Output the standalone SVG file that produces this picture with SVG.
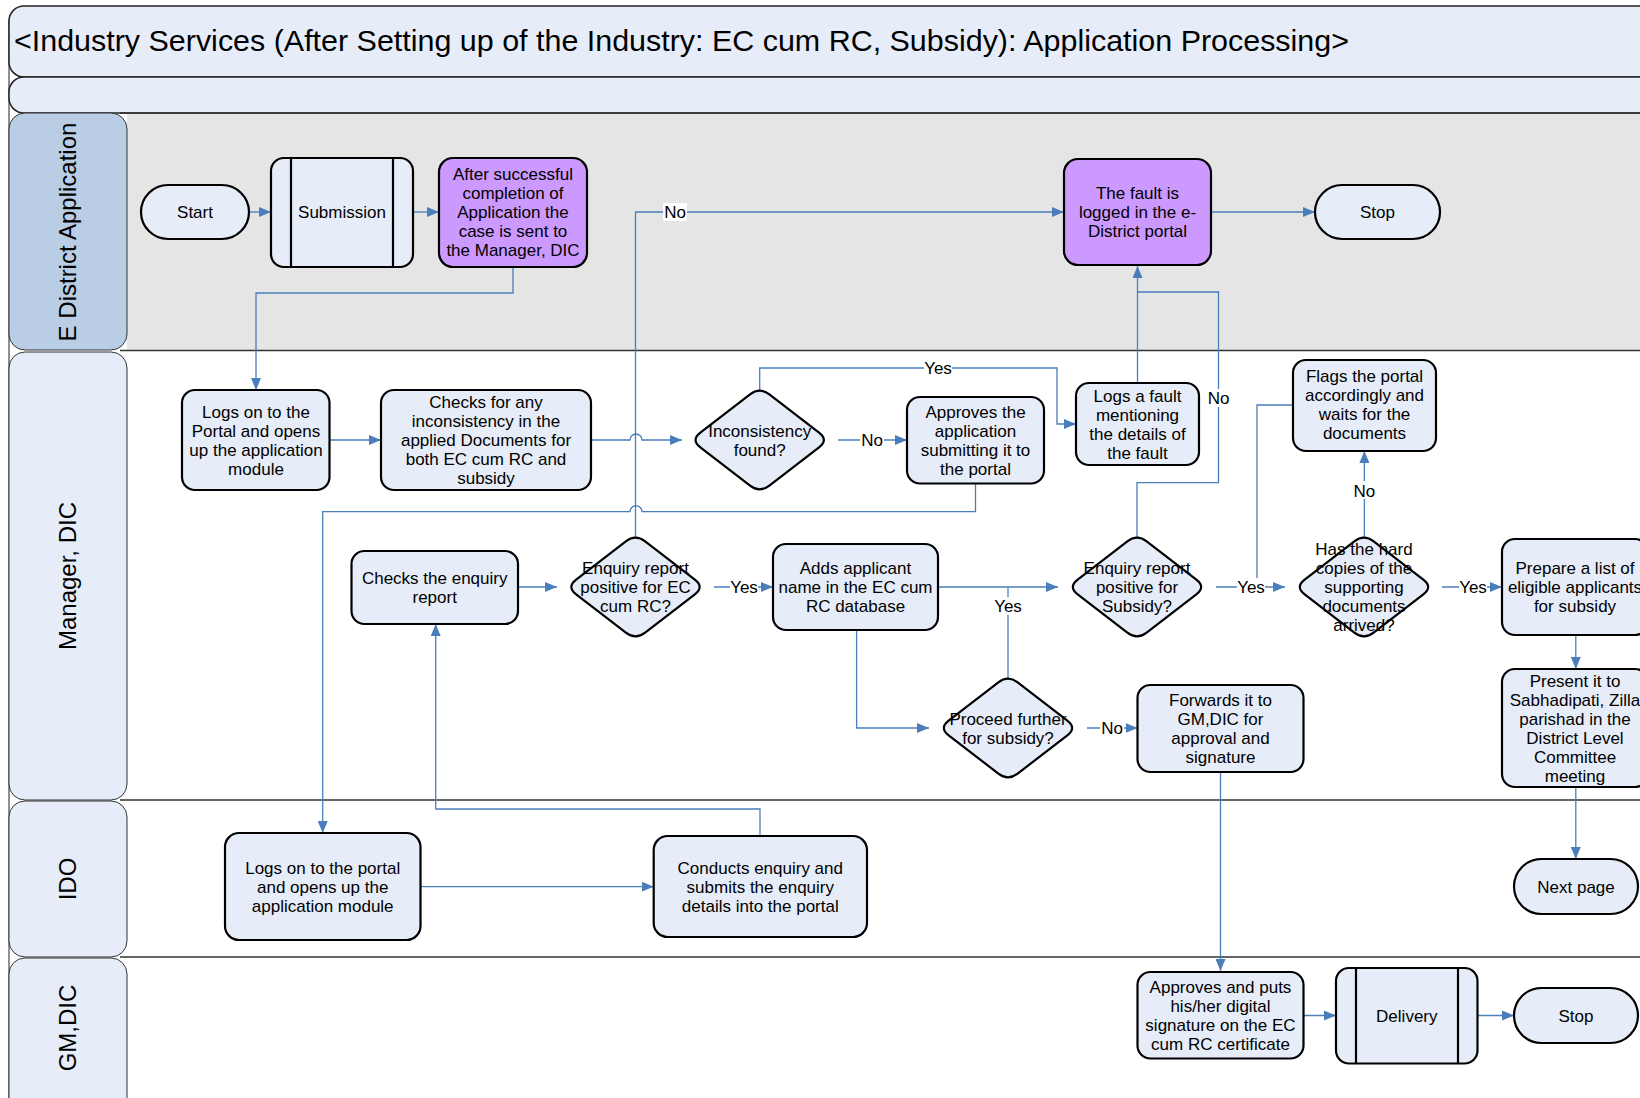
<svg xmlns="http://www.w3.org/2000/svg" xmlns:xlink="http://www.w3.org/1999/xlink" width="1640" height="1098" viewBox="0 0 1640 1098">
  <style>
    .txt { font-family: "Liberation Sans", Arial, sans-serif; font-size: 17px; fill: #000; text-anchor: middle; }
    .title { font-family: "Liberation Sans", Arial, sans-serif; font-size: 30px; fill: #000; }
    .lane { font-family: "Liberation Sans", Arial, sans-serif; font-size: 24px; fill: #000; text-anchor: middle; }
    .box { fill: #E6EDF8; stroke: #000; stroke-width: 2.2; }
    .purple { fill: #CC99FF; stroke: #000; stroke-width: 2.2; }
    .bar { fill: #E6EDF8; stroke: #222; stroke-width: 1.5; }
    .lanehead { fill: #E6EDF8; stroke: #333; stroke-width: 1; }
    .lanehead-a { fill: #B9CDE5; stroke: #333; stroke-width: 1; }
    .sep { stroke: #333; stroke-width: 1.6; fill: none; }
    .conn { fill: none; stroke: #4A7EBB; stroke-width: 1.3; }
    .arrow { marker-end: url(#arr); }
    .lblbg { fill: #fff; }
  </style>
  <defs>
    <marker id="arr" markerUnits="userSpaceOnUse" markerWidth="12" markerHeight="10" refX="12" refY="5" orient="auto">
      <path d="M0,0 L12,5 L0,10 Z" fill="#4A7EBB"/>
    </marker>
    <!-- decision shape, centred on the origin -->
    <path id="dia" class="box" d="M9.66,-45.58 L59.34,-7.42 Q69,0 59.34,7.42 L9.66,45.58 Q0,53 -9.66,45.58 L-59.34,7.42 Q-69,0 -59.34,-7.42 L-9.66,-45.58 Q0,-53 9.66,-45.58 Z"/>
  </defs>

  <!-- page background -->
  <rect x="0" y="0" width="1640" height="1098" fill="#fff"/>

  <!-- swimlane frame -->
  <g id="frame">
    <rect x="127" y="113" width="1520" height="237" fill="#E5E5E5"/>
    <line x1="9" y1="20" x2="9" y2="1098" stroke="#222" stroke-width="1"/>
    <rect class="bar" x="9" y="6" width="1660" height="71" rx="15"/>
    <rect class="bar" x="9" y="77" width="1660" height="36" rx="15"/>
    <line class="sep" x1="120" y1="113" x2="1640" y2="113"/>
    <line class="sep" x1="120" y1="350.5" x2="1640" y2="350.5"/>
    <line class="sep" x1="120" y1="800" x2="1640" y2="800"/>
    <line class="sep" x1="120" y1="957" x2="1640" y2="957"/>
    <rect class="lanehead-a" x="9" y="113" width="118" height="237" rx="16"/>
    <rect class="lanehead" x="9" y="352" width="118" height="448" rx="16"/>
    <rect class="lanehead" x="9" y="801" width="118" height="156" rx="16"/>
    <rect class="lanehead" x="9" y="958" width="118" height="160" rx="16"/>
    <text class="title" x="14" y="51" textLength="1335" lengthAdjust="spacingAndGlyphs">&lt;Industry Services (After Setting up of the Industry: EC cum RC, Subsidy): Application Processing&gt;</text>
    <text class="lane" transform="translate(76,232) rotate(-90)">E District Application</text>
    <text class="lane" transform="translate(76,576) rotate(-90)">Manager, DIC</text>
    <text class="lane" transform="translate(76,879) rotate(-90)">IDO</text>
    <text class="lane" transform="translate(76,1028) rotate(-90)">GM,DIC</text>
  </g>

  <!-- connectors -->
  <g id="connectors">
    <path class="conn arrow" d="M249,212 H271"/>
    <path class="conn arrow" d="M413,212 H439"/>
    <path class="conn arrow" d="M1211,212 H1315"/>
    <path class="conn arrow" d="M513,267 V293 H256 V390"/>
    <path class="conn arrow" d="M329.5,440 H381"/>
    <path class="conn arrow" d="M591,440 H630 a6,6 0 0 1 12,0 H682"/>
    <path class="conn arrow" d="M838,440 H907"/>
    <path class="conn arrow" d="M759.7,390 V368 H1057 V424 H1076"/>
    <path class="conn arrow" d="M975.5,483 V511.7 H642 a6,6 0 0 0 -12,0 H322.7 V833"/>
    <path class="conn arrow" d="M635.5,537 V212 H1064"/>
    <path class="conn arrow" d="M518,587 H557"/>
    <path class="conn arrow" d="M714,587 H773"/>
    <path class="conn arrow" d="M938,587 H1058"/>
    <path class="conn arrow" d="M856.6,630 V728 H929"/>
    <path class="conn" d="M1008,678 V587"/>
    <path class="conn arrow" d="M1087,728 H1137.5"/>
    <path class="conn arrow" d="M1220.5,772 V971"/>
    <path class="conn arrow" d="M1303.5,1015.5 H1336"/>
    <path class="conn arrow" d="M1477.5,1015.5 H1514"/>
    <path class="conn arrow" d="M1137.5,383 V266"/>
    <path class="conn" d="M1137,537 V482.7 H1218.5 V292 H1137.5"/>
    <path class="conn arrow" d="M1216,587 H1285"/>
    <path class="conn" d="M1293,405 H1257 V587"/>
    <path class="conn arrow" d="M1364.4,537 V451"/>
    <path class="conn arrow" d="M1442,587 H1502"/>
    <path class="conn arrow" d="M1575.8,635 V669"/>
    <path class="conn arrow" d="M1575.8,787 V859"/>
    <path class="conn arrow" d="M420.5,886.7 H653.7"/>
    <path class="conn arrow" d="M760,836 V809 H435.7 V624"/>

    <!-- branch labels -->
    <rect class="lblbg" x="663" y="203" width="24" height="18"/>
    <text class="txt" x="675" y="218">No</text>
    <rect class="lblbg" x="924" y="359" width="28" height="18"/>
    <text class="txt" x="938" y="374">Yes</text>
    <rect class="lblbg" x="860" y="431" width="24" height="18"/>
    <text class="txt" x="872" y="446">No</text>
    <rect class="lblbg" x="1206" y="389" width="25" height="18"/>
    <text class="txt" x="1218.5" y="404">No</text>
    <rect class="lblbg" x="730" y="578" width="28" height="18"/>
    <text class="txt" x="744" y="593">Yes</text>
    <rect class="lblbg" x="994" y="597" width="28" height="18"/>
    <text class="txt" x="1008" y="612">Yes</text>
    <rect class="lblbg" x="1100" y="719" width="24" height="18"/>
    <text class="txt" x="1112" y="734">No</text>
    <rect class="lblbg" x="1237" y="578" width="28" height="18"/>
    <text class="txt" x="1251" y="593">Yes</text>
    <rect class="lblbg" x="1352" y="481" width="25" height="18"/>
    <text class="txt" x="1364.4" y="496.7">No</text>
    <rect class="lblbg" x="1459" y="578" width="28" height="18"/>
    <text class="txt" x="1473" y="593">Yes</text>
  </g>

  <!-- E District Application lane -->
  <g id="start">
    <rect class="box" x="141" y="185" width="108" height="54" rx="27"/>
    <text class="txt" x="195" y="218">Start</text>
  </g>
  <g id="submission">
    <rect class="box" x="271" y="158" width="142" height="109" rx="13"/>
    <line x1="291" y1="158" x2="291" y2="267" stroke="#000" stroke-width="2.2"/>
    <line x1="393" y1="158" x2="393" y2="267" stroke="#000" stroke-width="2.2"/>
    <text class="txt" x="342" y="218">Submission</text>
  </g>
  <g id="sent-to-manager">
    <rect class="purple" x="439" y="158" width="148" height="109" rx="14"/>
    <text class="txt" x="513" y="180">After successful</text>
    <text class="txt" x="513" y="199">completion of</text>
    <text class="txt" x="513" y="218">Application the</text>
    <text class="txt" x="513" y="237">case is sent to</text>
    <text class="txt" x="513" y="256">the Manager, DIC</text>
  </g>
  <g id="fault-logged">
    <rect class="purple" x="1064" y="159" width="147" height="106" rx="14"/>
    <text class="txt" x="1137.5" y="199">The fault is</text>
    <text class="txt" x="1137.5" y="218">logged in the e-</text>
    <text class="txt" x="1137.5" y="237">District portal</text>
  </g>
  <g id="stop-1">
    <rect class="box" x="1315" y="185" width="125" height="54" rx="27"/>
    <text class="txt" x="1377.5" y="218">Stop</text>
  </g>

  <!-- Manager, DIC lane -->
  <g id="mgr-logs-on">
    <rect class="box" x="182" y="390" width="147.5" height="100" rx="13"/>
    <text class="txt" x="256" y="417.5">Logs on to the</text>
    <text class="txt" x="256" y="436.5">Portal and opens</text>
    <text class="txt" x="256" y="455.5">up the application</text>
    <text class="txt" x="256" y="474.5">module</text>
  </g>
  <g id="check-inconsistency">
    <rect class="box" x="381" y="390" width="210" height="100" rx="13"/>
    <text class="txt" x="486" y="408">Checks for any</text>
    <text class="txt" x="486" y="427">inconsistency in the</text>
    <text class="txt" x="486" y="446">applied Documents for</text>
    <text class="txt" x="486" y="465">both EC cum RC and</text>
    <text class="txt" x="486" y="484">subsidy</text>
  </g>
  <g id="inconsistency-found">
    <use xlink:href="#dia" href="#dia" x="759.7" y="440"/>
    <text class="txt" x="759.7" y="436.5">Inconsistency</text>
    <text class="txt" x="759.7" y="455.5">found?</text>
  </g>
  <g id="approves">
    <rect class="box" x="907" y="397" width="137" height="86.5" rx="13"/>
    <text class="txt" x="975.5" y="417.5">Approves the</text>
    <text class="txt" x="975.5" y="436.5">application</text>
    <text class="txt" x="975.5" y="455.5">submitting it to</text>
    <text class="txt" x="975.5" y="474.5">the portal</text>
  </g>
  <g id="logs-fault">
    <rect class="box" x="1076" y="383" width="123" height="82" rx="13"/>
    <text class="txt" x="1137.5" y="401.5">Logs a fault</text>
    <text class="txt" x="1137.5" y="420.5">mentioning</text>
    <text class="txt" x="1137.5" y="439.5">the details of</text>
    <text class="txt" x="1137.5" y="458.5">the fault</text>
  </g>
  <g id="flags-portal">
    <rect class="box" x="1293" y="360" width="143" height="91" rx="13"/>
    <text class="txt" x="1364.5" y="382">Flags the portal</text>
    <text class="txt" x="1364.5" y="401">accordingly and</text>
    <text class="txt" x="1364.5" y="420">waits for the</text>
    <text class="txt" x="1364.5" y="439">documents</text>
  </g>
  <g id="checks-enquiry">
    <rect class="box" x="351.5" y="551" width="166.5" height="73" rx="13"/>
    <text class="txt" x="434.7" y="583.5">Checks the enquiry</text>
    <text class="txt" x="434.7" y="602.5">report</text>
  </g>
  <g id="enquiry-ec">
    <use xlink:href="#dia" href="#dia" x="635.5" y="587"/>
    <text class="txt" x="635.5" y="574">Enquiry report</text>
    <text class="txt" x="635.5" y="593">positive for EC</text>
    <text class="txt" x="635.5" y="612">cum RC?</text>
  </g>
  <g id="adds-applicant">
    <rect class="box" x="773" y="544" width="165" height="86" rx="13"/>
    <text class="txt" x="855.5" y="574">Adds applicant</text>
    <text class="txt" x="855.5" y="593">name in the EC cum</text>
    <text class="txt" x="855.5" y="612">RC database</text>
  </g>
  <g id="enquiry-subsidy">
    <use xlink:href="#dia" href="#dia" x="1137" y="587"/>
    <text class="txt" x="1137" y="574">Enquiry report</text>
    <text class="txt" x="1137" y="593">positive for</text>
    <text class="txt" x="1137" y="612">Subsidy?</text>
  </g>
  <g id="hard-copies">
    <use xlink:href="#dia" href="#dia" x="1364" y="587"/>
    <text class="txt" x="1364" y="555">Has the hard</text>
    <text class="txt" x="1364" y="574">copies of the</text>
    <text class="txt" x="1364" y="593">supporting</text>
    <text class="txt" x="1364" y="612">documents</text>
    <text class="txt" x="1364" y="631">arrived?</text>
  </g>
  <g id="prepare-list">
    <rect class="box" x="1502" y="539" width="146" height="96" rx="13"/>
    <text class="txt" x="1575" y="574">Prepare a list of</text>
    <text class="txt" x="1575" y="593">eligible applicants</text>
    <text class="txt" x="1575" y="612">for subsidy</text>
  </g>
  <g id="proceed-subsidy">
    <use xlink:href="#dia" href="#dia" x="1008" y="728"/>
    <text class="txt" x="1008" y="724.5">Proceed further</text>
    <text class="txt" x="1008" y="743.5">for subsidy?</text>
  </g>
  <g id="forwards-gm">
    <rect class="box" x="1137.5" y="685" width="166" height="87" rx="13"/>
    <text class="txt" x="1220.5" y="705.5">Forwards it to</text>
    <text class="txt" x="1220.5" y="724.5">GM,DIC for</text>
    <text class="txt" x="1220.5" y="743.5">approval and</text>
    <text class="txt" x="1220.5" y="762.5">signature</text>
  </g>
  <g id="present-committee">
    <rect class="box" x="1502" y="669" width="146" height="118" rx="13"/>
    <text class="txt" x="1575" y="686.5">Present it to</text>
    <text class="txt" x="1575" y="705.5">Sabhadipati, Zilla</text>
    <text class="txt" x="1575" y="724.5">parishad in the</text>
    <text class="txt" x="1575" y="743.5">District Level</text>
    <text class="txt" x="1575" y="762.5">Committee</text>
    <text class="txt" x="1575" y="781.5">meeting</text>
  </g>

  <!-- IDO lane -->
  <g id="ido-logs-on">
    <rect class="box" x="225" y="833" width="195.5" height="107" rx="14"/>
    <text class="txt" x="322.7" y="873.5">Logs on to the portal</text>
    <text class="txt" x="322.7" y="892.5">and opens up the</text>
    <text class="txt" x="322.7" y="911.5">application module</text>
  </g>
  <g id="conducts-enquiry">
    <rect class="box" x="653.7" y="836" width="213.3" height="101" rx="14"/>
    <text class="txt" x="760.3" y="873.5">Conducts enquiry and</text>
    <text class="txt" x="760.3" y="892.5">submits the enquiry</text>
    <text class="txt" x="760.3" y="911.5">details into the portal</text>
  </g>
  <g id="next-page">
    <rect class="box" x="1514" y="859" width="124" height="55" rx="27.5"/>
    <text class="txt" x="1576" y="892.5">Next page</text>
  </g>

  <!-- GM,DIC lane -->
  <g id="digital-signature">
    <rect class="box" x="1137.5" y="972" width="166" height="86.5" rx="13"/>
    <text class="txt" x="1220.5" y="992.5">Approves and puts</text>
    <text class="txt" x="1220.5" y="1011.5">his/her digital</text>
    <text class="txt" x="1220.5" y="1030.5">signature on the EC</text>
    <text class="txt" x="1220.5" y="1049.5">cum RC certificate</text>
  </g>
  <g id="delivery">
    <rect class="box" x="1336" y="968" width="141.5" height="95.5" rx="13"/>
    <line x1="1356" y1="968" x2="1356" y2="1063.5" stroke="#000" stroke-width="2.2"/>
    <line x1="1458" y1="968" x2="1458" y2="1063.5" stroke="#000" stroke-width="2.2"/>
    <text class="txt" x="1406.8" y="1021.5">Delivery</text>
  </g>
  <g id="stop-2">
    <rect class="box" x="1514" y="988" width="124" height="55" rx="27.5"/>
    <text class="txt" x="1576" y="1021.5">Stop</text>
  </g>
</svg>
